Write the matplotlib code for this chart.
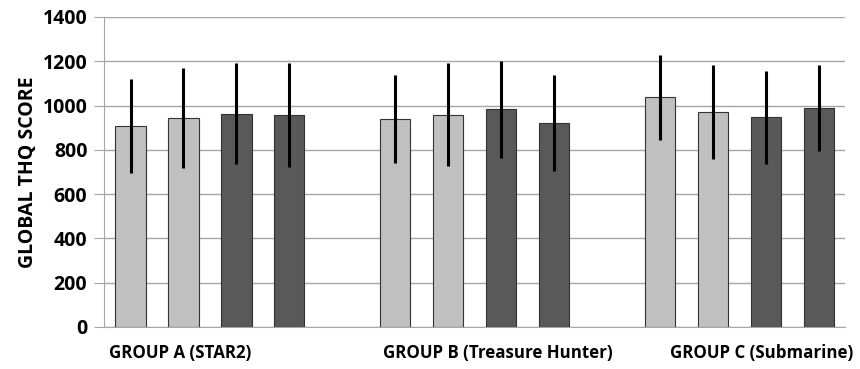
import numpy as np
import matplotlib.pyplot as plt

groups = ['GROUP A (STAR2)', 'GROUP B (Treasure Hunter)', 'GROUP C (Submarine)']
# four bars per group: two light, two dark
means = [
    [908, 944, 962, 958],
    [938, 958, 983, 921],
    [1037, 972, 947, 988],
]
errs = [
    [211, 227, 228, 235],
    [198, 233, 220, 216],
    [192, 212, 210, 195],
]
bar_colors = ['#c0c0c0', '#c0c0c0', '#595959', '#595959']

plt.rcParams['font.family'] = ['Open Sans', 'DejaVu Sans']
plt.rcParams['font.weight'] = 'bold'

fig = plt.figure(figsize=(8.6, 3.69), dpi=100)
ax = fig.add_axes([0.121, 0.114, 0.862, 0.840])

for g in range(len(groups)):
    x = np.arange(4) + g * 5
    ax.bar(x, means[g], width=0.57, color=bar_colors, edgecolor='#333333',
           linewidth=0.8, zorder=3)
    ax.errorbar(x, means[g], yerr=errs[g], fmt='none', ecolor='black',
                elinewidth=2.2, capsize=0, zorder=4)

ax.set_xlim(-0.5, 13.5)
ax.set_ylim(0, 1400)
ax.set_yticks(range(0, 1401, 200))
ax.set_xticks([])
ax.yaxis.grid(True, color='#a6a6a6', linewidth=1, zorder=0)
ax.tick_params(axis='y', length=7, color='#a6a6a6', labelsize=14, pad=5)
for lab in ax.get_yticklabels():
    lab.set_fontweight('bold')
for s in ['top', 'right']:
    ax.spines[s].set_visible(False)
ax.spines['left'].set_color('#a6a6a6')
ax.spines['bottom'].set_color('#a6a6a6')
ax.set_ylabel('GLOBAL THQ SCORE', fontsize=14, fontweight='bold', labelpad=3)

label_x = [-0.4, 4.77, 10.18]
for g, name in enumerate(groups):
    ax.text(label_x[g], -0.085, name, transform=ax.get_xaxis_transform(),
            ha='left', va='center', fontsize=12.2, fontweight='bold')

fig.savefig('out.png', dpi=100)
